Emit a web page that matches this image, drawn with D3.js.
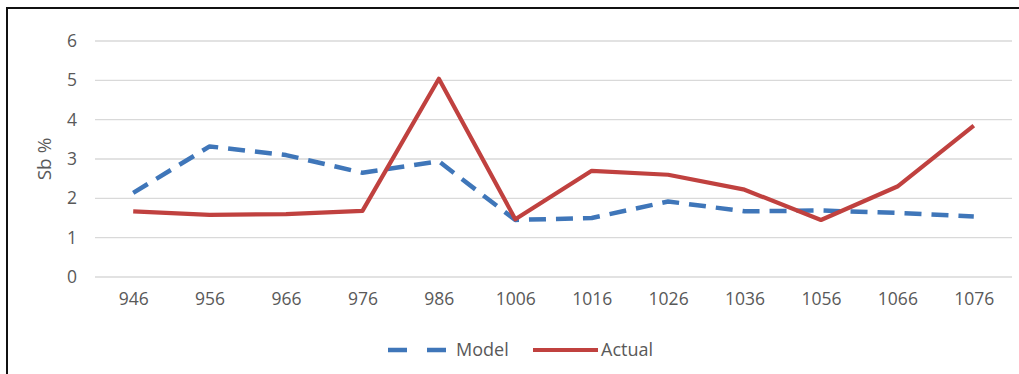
<!DOCTYPE html>
<html><head><meta charset="utf-8">
<script src="https://cdn.jsdelivr.net/npm/d3@7"></script>
<style>body{margin:0;background:#fff;}svg{display:block;}text{font-family:"Open Sans","Liberation Sans",sans-serif;}</style>
</head><body>
<svg id="c" width="1019" height="374"></svg>
<script>
const categories = ["946","956","966","976","986","1006","1016","1026","1036","1056","1066","1076"];
const modelValues = [2.14, 3.32, 3.1, 2.65, 2.94, 1.45, 1.5, 1.92, 1.67, 1.69, 1.63, 1.54];
const actualValues = [1.67, 1.58, 1.6, 1.68, 5.04, 1.47, 2.7, 2.6, 2.22, 1.45, 2.3, 3.85];
const yTicks = [0,1,2,3,4,5,6];
const seriesNames = ["Model","Actual"];

const svg = d3.select("#c");
const m = {l:95, r:1012, t:41, b:277};
const x = d3.scalePoint().domain(categories).range([m.l, m.r]).padding(0.5);
const y = d3.scaleLinear().domain([0,6]).range([m.b, m.t]);

// border
svg.append("path").attr("d","M7,374 L7,8 L1019,8").attr("fill","none").attr("stroke","#111").attr("stroke-width",2);

// grid
svg.append("g").selectAll("line").data(yTicks).join("line")
  .attr("x1",m.l).attr("x2",m.r).attr("y1",d=>y(d)).attr("y2",d=>y(d))
  .attr("stroke","#d9d9d9").attr("stroke-width",1.3);

// y axis
const ya = svg.append("g").attr("transform",`translate(${m.l},0)`)
  .call(d3.axisLeft(y).tickValues(yTicks).tickFormat(d3.format("d")).tickSize(0).tickPadding(18));
ya.select(".domain").remove();
ya.attr("font-size",null).attr("font-family",null);
ya.selectAll("text").attr("fill","#595959").attr("font-size",17.5);

// x axis
const xa = svg.append("g").attr("transform",`translate(0,${m.b})`)
  .call(d3.axisBottom(x).tickSize(0).tickPadding(16));
xa.select(".domain").remove();
xa.attr("font-size",null).attr("font-family",null);
xa.selectAll("text").attr("fill","#595959").attr("font-size",17.5);

// y title
svg.append("text").attr("transform","translate(51,159) rotate(-90)")
  .attr("text-anchor","middle").attr("fill","#595959").attr("font-size",19).text("Sb %");

const line = d3.line().x((d,i)=>x(categories[i])).y(d=>y(d));
svg.append("path").datum(modelValues).attr("d",line).attr("fill","none")
  .attr("stroke","#3f76b9").attr("stroke-width",4.5).attr("stroke-dasharray","17,10").attr("stroke-linejoin","round");
svg.append("path").datum(actualValues).attr("d",line).attr("fill","none")
  .attr("stroke","#c0413f").attr("stroke-width",4.2).attr("stroke-linejoin","round");

// legend
const ly = 350;
const lg = svg.append("g");
lg.append("line").attr("x1",388).attr("x2",449).attr("y1",ly).attr("y2",ly)
  .attr("stroke","#3f76b9").attr("stroke-width",4.5).attr("stroke-dasharray","19,20");
lg.append("text").attr("x",456).attr("y",ly+6).attr("fill","#595959").attr("font-size",18).text(seriesNames[0]);
lg.append("line").attr("x1",533).attr("x2",598).attr("y1",ly).attr("y2",ly)
  .attr("stroke","#c0413f").attr("stroke-width",4.2);
lg.append("text").attr("x",601).attr("y",ly+6).attr("fill","#595959").attr("font-size",18).text(seriesNames[1]);
</script>
</body></html>
